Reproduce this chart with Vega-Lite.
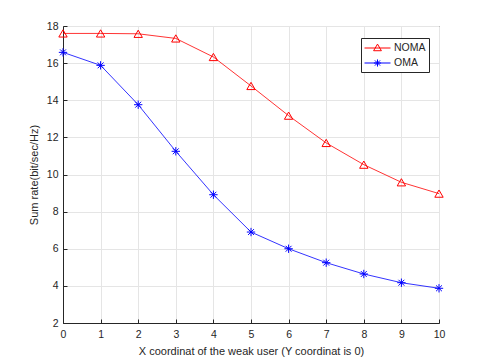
{
  "$schema": "https://vega.github.io/schema/vega-lite/v6.json",
  "width": 376,
  "height": 297,
  "autosize": {"type": "none"},
  "padding": {"left": 63, "top": 26, "right": 46, "bottom": 40},
  "background": "white",
  "config": {
    "font": "Liberation Sans",
    "view": {"stroke": "#262626", "strokeWidth": 1},
    "axis": {
      "labelFont": "Liberation Sans",
      "titleFont": "Liberation Sans",
      "labelFontSize": 10.5,
      "titleFontSize": 11,
      "labelColor": "#262626",
      "titleColor": "#262626",
      "titleFontWeight": "normal",
      "domainColor": "#262626",
      "tickColor": "#262626",
      "gridColor": "#e5e5e5",
      "gridWidth": 1,
      "labelFlush": false
    }
  },
  "data": {
    "values": [
      {"x": 0, "rate": 17.6, "scheme": "NOMA"},
      {"x": 1, "rate": 17.6, "scheme": "NOMA"},
      {"x": 2, "rate": 17.58, "scheme": "NOMA"},
      {"x": 3, "rate": 17.33, "scheme": "NOMA"},
      {"x": 4, "rate": 16.33, "scheme": "NOMA"},
      {"x": 5, "rate": 14.77, "scheme": "NOMA"},
      {"x": 6, "rate": 13.17, "scheme": "NOMA"},
      {"x": 7, "rate": 11.7, "scheme": "NOMA"},
      {"x": 8, "rate": 10.53, "scheme": "NOMA"},
      {"x": 9, "rate": 9.58, "scheme": "NOMA"},
      {"x": 10, "rate": 8.97, "scheme": "NOMA"},
      {"x": 0, "rate": 16.58, "scheme": "OMA"},
      {"x": 1, "rate": 15.88, "scheme": "OMA"},
      {"x": 2, "rate": 13.76, "scheme": "OMA"},
      {"x": 3, "rate": 11.25, "scheme": "OMA"},
      {"x": 4, "rate": 8.91, "scheme": "OMA"},
      {"x": 5, "rate": 6.9, "scheme": "OMA"},
      {"x": 6, "rate": 6.0, "scheme": "OMA"},
      {"x": 7, "rate": 5.25, "scheme": "OMA"},
      {"x": 8, "rate": 4.64, "scheme": "OMA"},
      {"x": 9, "rate": 4.17, "scheme": "OMA"},
      {"x": 10, "rate": 3.87, "scheme": "OMA"}
    ]
  },
  "encoding": {
    "x": {
      "field": "x",
      "type": "quantitative",
      "scale": {"domain": [0, 10], "nice": false, "zero": false},
      "axis": {
        "title": "X coordinat of the weak user (Y coordinat is 0)",
        "values": [0, 1, 2, 3, 4, 5, 6, 7, 8, 9, 10],
        "tickSize": -4,
        "labelPadding": 10,
        "titlePadding": 6
      }
    },
    "y": {
      "field": "rate",
      "type": "quantitative",
      "scale": {"domain": [2, 18], "nice": false, "zero": false},
      "axis": {
        "title": "Sum rate(bit/sec/Hz)",
        "values": [2, 4, 6, 8, 10, 12, 14, 16, 18],
        "tickSize": -4,
        "labelPadding": 9,
        "titlePadding": 7
      }
    }
  },
  "layer": [
    {
      "mark": {"type": "line", "strokeWidth": 0.8},
      "encoding": {
        "color": {
          "field": "scheme",
          "type": "nominal",
          "scale": {"domain": ["NOMA", "OMA"], "range": ["#ff0000", "#0000ff"]},
          "legend": {
            "title": null,
            "orient": "none",
            "legendX": 298,
            "legendY": 12,
            "strokeColor": "#262626",
            "fillColor": "white",
            "padding": 3,
            "labelFont": "Liberation Sans",
            "labelFontSize": 10.5,
            "labelColor": "#262626",
            "symbolSize": 169,
            "symbolOffset": 6.5,
            "symbolStrokeWidth": 1,
            "rowPadding": 2,
            "labelOffset": 9.5,
            "encode": {
              "symbols": {
                "update": {
                  "shape": {"signal": "datum.value === 'NOMA' ? 'M-2,0H2M-0.6,0.42L0,-0.6L0.6,0.42Z' : 'M-2,0H2M-0.55,0H0.55M0,-0.55V0.55M-0.4,-0.4L0.4,0.4M-0.4,0.4L0.4,-0.4'"},
                  "fill": {"value": "transparent"},
                  "strokeWidth": {"value": 1}
                }
              }
            }
          }
        }
      }
    },
    {
      "mark": {"type": "point", "filled": false, "strokeWidth": 1, "size": 70, "opacity": 1},
      "encoding": {
        "color": {
          "condition": {"test": "datum.scheme === 'OMA'", "value": "#0000ff"},
          "value": "#ff0000"
        },
        "shape": {
          "condition": {"test": "datum.scheme === 'OMA'", "value": "M-1,0H1M0,-1V1M-0.7,-0.7L0.7,0.7M-0.7,0.7L0.7,-0.7"},
          "value": "triangle-up"
        }
      }
    }
  ]
}
